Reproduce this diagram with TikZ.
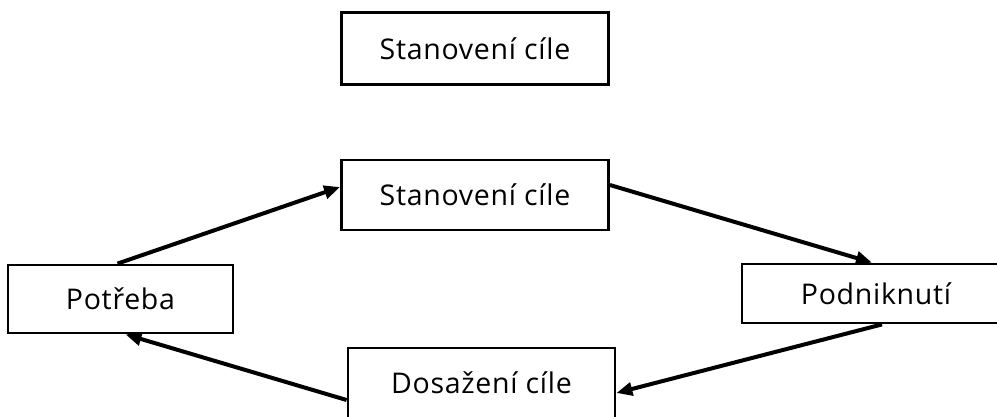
\documentclass[tikz,border=0pt]{standalone}
\usepackage{fontspec}
\setmainfont{Open Sans}[LetterSpace=2.5]
\usetikzlibrary{arrows.meta}
\tikzset{
  box/.style={draw=black, line width=2.8pt, fill=white, inner sep=0pt, font=\fontsize{28.5}{32}\selectfont},
  link/.style={line width=4pt, -{Triangle[length=16pt,width=13pt]}}
}
\begin{document}
\begin{tikzpicture}[x=1pt,y=-1pt]
\useasboundingbox (0,0) rectangle (997,416);
\clip (0,0) rectangle (997,416);
\node[box, minimum width=267pt, minimum height=72pt] (st1) at (475,48.5) {Stanovení cíle};
\node[box, minimum width=267pt, minimum height=70pt] (st2) at (475,195) {Stanovení cíle};
\node[box, minimum width=225pt, minimum height=68pt] (po) at (120.5,299) {Potřeba};
\node[box, minimum width=268pt, minimum height=59pt] (pd) at (876,293.5) {Podniknutí};
\node[box, minimum width=267pt, minimum height=70pt] (ds) at (481.5,383) {Dosažení cíle};
\draw[link] ([xshift=-3pt]po.north) -- ([yshift=8pt]st2.west);
\draw[link] ([yshift=10pt]st2.east) -- ([xshift=-4pt]pd.north);
\draw[link] ([xshift=6pt]pd.south) -- ([yshift=-10pt]ds.east);
\draw[link] ([yshift=-17pt]ds.west) -- ([xshift=5pt]po.south);
\end{tikzpicture}
\end{document}
